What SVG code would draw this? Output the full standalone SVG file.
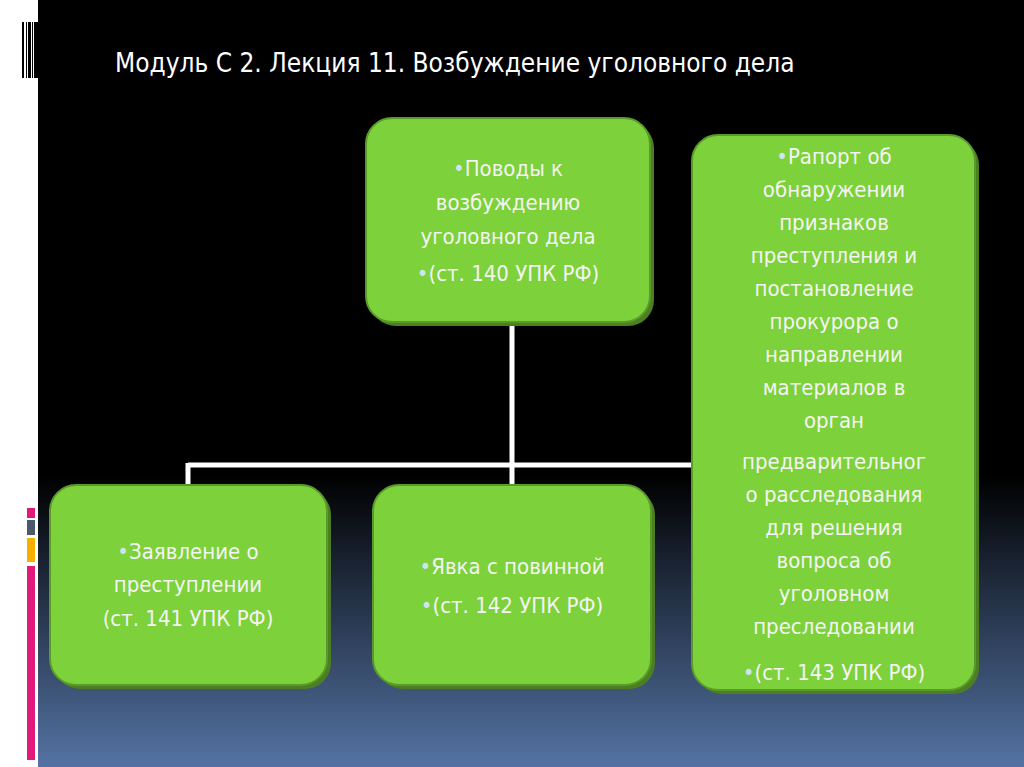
<svg xmlns="http://www.w3.org/2000/svg" width="1024" height="767" viewBox="0 0 1024 767">
<defs>
<linearGradient id="bg" x1="0" y1="0" x2="0" y2="1">
<stop offset="0" stop-color="#000"/><stop offset="0.62" stop-color="#000"/><stop offset="1" stop-color="#5473a3"/>
</linearGradient>
</defs>
<style>
.box{fill:#7dd13a;stroke:#5a9a2a;stroke-width:2}
.sh{fill:#4c7f22}
.t{font-family:"DejaVu Sans Condensed","DejaVu Sans",sans-serif;font-size:22px;fill:#f4f4f4;text-anchor:middle}
.b{fill:#cfe3f5}
.c{stroke:#fff;stroke-width:5;fill:none}
</style>
<rect width="1024" height="767" fill="#fff"/>
<rect x="38" y="0" width="986" height="767" fill="url(#bg)"/>
<g fill="#000">
<rect x="22" y="22" width="2" height="56"/><rect x="26" y="22" width="1" height="56"/><rect x="28" y="22" width="3" height="56"/><rect x="32" y="22" width="1" height="56"/><rect x="34" y="22" width="4" height="56"/>
</g>
<rect x="27" y="508" width="8" height="10" fill="#e0197a"/>
<rect x="27" y="520" width="8" height="15" fill="#4a5a6a"/>
<rect x="27" y="538" width="8" height="24" fill="#f8b000"/>
<rect x="27" y="566" width="8" height="194" fill="#e0197a"/>
<text x="115" y="72" font-family="'DejaVu Sans Condensed','DejaVu Sans',sans-serif" font-size="26" fill="#fff">Модуль С 2. Лекция 11. Возбуждение уголовного дела</text>
<g id="connectors" class="c">
<path d="M512 322V465M188 465H692M188 463V487M512 463V487"/>
</g>
<g id="n1">
<rect class="sh" x="370" y="122" width="284" height="204" rx="26"/>
<rect class="box" x="366" y="118" width="284" height="204" rx="26"/>
<text class="t" x="508" y="176"><tspan class="b">•</tspan>Поводы к</text>
<text class="t" x="508" y="210">возбуждению</text>
<text class="t" x="508" y="244">уголовного дела</text>
<text class="t" x="508" y="281"><tspan class="b">•</tspan>(ст. 140 УПК РФ)</text>
</g>
<g id="n2">
<rect class="sh" x="696" y="139" width="283" height="555" rx="26"/>
<rect class="box" x="692" y="135" width="283" height="555" rx="26"/>
<g class="t">
<text x="834" y="164"><tspan class="b">•</tspan>Рапорт об</text>
<text x="834" y="197">обнаружении</text>
<text x="834" y="230">признаков</text>
<text x="834" y="263">преступления и</text>
<text x="834" y="296">постановление</text>
<text x="834" y="329">прокурора о</text>
<text x="834" y="362">направлении</text>
<text x="834" y="395">материалов в</text>
<text x="834" y="428">орган</text>
<text x="834" y="469">предварительног</text>
<text x="834" y="502">о расследования</text>
<text x="834" y="535">для решения</text>
<text x="834" y="568">вопроса об</text>
<text x="834" y="601">уголовном</text>
<text x="834" y="634">преследовании</text>
<text x="834" y="680"><tspan class="b">•</tspan>(ст. 143 УПК РФ)</text>
</g>
</g>
<g id="n3">
<rect class="sh" x="54" y="489" width="277" height="200" rx="26"/>
<rect class="box" x="50" y="485" width="277" height="200" rx="26"/>
<text class="t" x="188" y="559"><tspan class="b">•</tspan>Заявление о</text>
<text class="t" x="188" y="592">преступлении</text>
<text class="t" x="188" y="626">(ст. 141 УПК РФ)</text>
</g>
<g id="n4">
<rect class="sh" x="377" y="489" width="278" height="200" rx="26"/>
<rect class="box" x="373" y="485" width="278" height="200" rx="26"/>
<text class="t" x="512" y="574"><tspan class="b">•</tspan>Явка с повинной</text>
<text class="t" x="512" y="613"><tspan class="b">•</tspan>(ст. 142 УПК РФ)</text>
</g>
</svg>
